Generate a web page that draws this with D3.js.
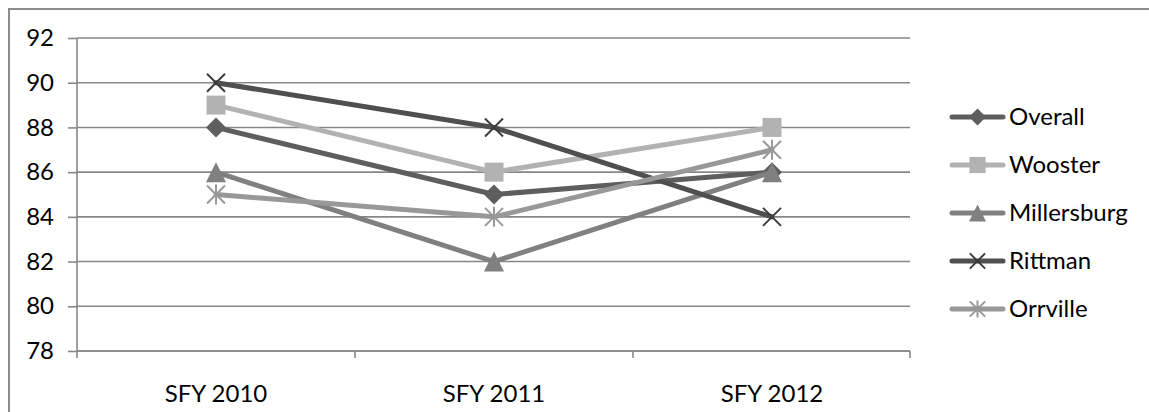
<!DOCTYPE html>
<html>
<head>
<meta charset="utf-8">
<script src="https://cdn.jsdelivr.net/npm/d3@7"></script>
<style>
  html, body { margin: 0; padding: 0; background: #fff; overflow: hidden; }
  svg { display: block; font-family: Lato, "Open Sans", sans-serif; }
</style>
</head>
<body>
<svg id="chart" width="1149" height="412"></svg>
<script>
// Satisfaction scores by site, three state fiscal years
const categories = ["SFY 2010", "SFY 2011", "SFY 2012"];
const seriesNames = ["Overall", "Wooster", "Millersburg", "Rittman", "Orrville"];
const overall     = [88, 85, 86];
const wooster     = [89, 86, 88];
const millersburg = [86, 82, 86];
const rittman     = [90, 88, 84];
const orrville    = [85, 84, 87];
const yTicks = [78, 80, 82, 84, 86, 88, 90, 92];

const seriesValues = [overall, wooster, millersburg, rittman, orrville];
const seriesColors = ["#5e5e5e", "#b2b2b2", "#808080", "#4f4f4f", "#989898"];
const seriesMarkers = ["diamond", "square", "triangle", "cross", "star"];

const svg = d3.select("#chart");
const W = 1149, H = 412;
const plot = { left: 77, right: 911, top: 38, bottom: 351 };
const fontSize = 24;
const gridColor = "#878787";

// outer chart frame (runs off the right and bottom edges)
svg.append("rect")
  .attr("x", 9).attr("y", 9)
  .attr("width", W + 40).attr("height", H + 40)
  .attr("fill", "none").attr("stroke", "#8c8c8c").attr("stroke-width", 2);

const x = d3.scaleBand().domain(categories).range([plot.left, plot.right]).padding(0);
const y = d3.scaleLinear().domain([78, 92]).range([plot.bottom, plot.top]);

// horizontal gridlines
svg.append("g").selectAll("line").data(yTicks).join("line")
  .attr("x1", plot.left).attr("x2", plot.right - 1)
  .attr("y1", d => y(d)).attr("y2", d => y(d))
  .attr("stroke", gridColor).attr("stroke-width", 1.6);

// value axis
const yAxis = svg.append("g")
  .attr("transform", `translate(${plot.left},0)`)
  .call(d3.axisLeft(y).tickValues(yTicks).tickSize(9).tickPadding(14).tickFormat(d3.format("d")));
yAxis.select(".domain").attr("stroke", gridColor).attr("stroke-width", 1.6)
  .attr("d", `M0,${plot.top}V${plot.bottom + 7}`);
yAxis.selectAll(".tick line").attr("stroke", gridColor).attr("stroke-width", 1.6);
yAxis.selectAll(".tick text")
  .attr("font-size", fontSize).attr("fill", "#000")
  .attr("font-family", "Lato, 'Open Sans', sans-serif");

// category axis
const xAxis = svg.append("g")
  .attr("transform", `translate(0,${plot.bottom})`)
  .call(d3.axisBottom(x).tickSize(0).tickPadding(34));
xAxis.select(".domain").attr("stroke", gridColor).attr("stroke-width", 1.6)
  .attr("d", `M${plot.left},0H${plot.right - 1}`);
xAxis.selectAll(".tick text")
  .attr("font-size", fontSize).attr("fill", "#000")
  .attr("font-family", "Lato, 'Open Sans', sans-serif");
// tick marks between categories
const bounds = categories.map(c => x(c)).concat([plot.right - 1]);
xAxis.append("g").selectAll("line").data(bounds.slice(1)).join("line")
  .attr("x1", d => d).attr("x2", d => d).attr("y1", 0).attr("y2", 7)
  .attr("stroke", gridColor).attr("stroke-width", 1.6);

// marker drawing
function drawMarker(g, type, color, s) {
  if (type === "diamond") {
    g.append("path").attr("d", `M0,${-s}L${s},0L0,${s}L${-s},0Z`).attr("fill", color);
  } else if (type === "square") {
    g.append("rect").attr("x", -s * 0.95).attr("y", -s * 0.95)
      .attr("width", s * 1.9).attr("height", s * 1.9).attr("fill", color);
  } else if (type === "triangle") {
    g.append("path").attr("d", `M0,${-s}L${s},${s}L${-s},${s}Z`).attr("fill", color);
  } else if (type === "cross" || type === "star") {
    const k = s * 0.9;
    g.append("path")
      .attr("d", `M${-k},${-k}L${k},${k}M${-k},${k}L${k},${-k}` + (type === "star" ? `M0,${-s}L0,${s}` : ""))
      .attr("stroke", color).attr("stroke-width", 2).attr("fill", "none");
  }
}

const line = d3.line()
  .x((d, i) => x(categories[i]) + x.bandwidth() / 2)
  .y(d => y(d));

const seriesG = svg.append("g");
seriesValues.forEach((vals, si) => {
  const g = seriesG.append("g");
  g.append("path").datum(vals)
    .attr("d", line)
    .attr("fill", "none")
    .attr("stroke", seriesColors[si])
    .attr("stroke-width", 5)
    .attr("stroke-linejoin", "round").attr("stroke-linecap", "round");
  vals.forEach((v, i) => {
    const m = g.append("g")
      .attr("transform", `translate(${x(categories[i]) + x.bandwidth() / 2},${y(v)})`);
    drawMarker(m, seriesMarkers[si], seriesMarkers[si] === "cross" ? "#3c3c3c" : seriesColors[si], 10);
  });
});

// legend
const legend = svg.append("g");
const legendTop = 117, legendStep = 48;
seriesNames.forEach((name, si) => {
  const row = legend.append("g").attr("transform", `translate(950,${legendTop + si * legendStep})`);
  row.append("line").attr("x1", 2).attr("x2", 53).attr("y1", 0).attr("y2", 0)
    .attr("stroke", seriesColors[si]).attr("stroke-width", 5).attr("stroke-linecap", "round");
  const m = row.append("g").attr("transform", "translate(27.5,0)");
  drawMarker(m, seriesMarkers[si], seriesMarkers[si] === "cross" ? "#3c3c3c" : seriesColors[si], 8.5);
  row.append("text").attr("x", 59).attr("y", 0).attr("dy", "0.35em")
    .attr("font-size", fontSize).attr("fill", "#000").text(name);
});
</script>
</body>
</html>
